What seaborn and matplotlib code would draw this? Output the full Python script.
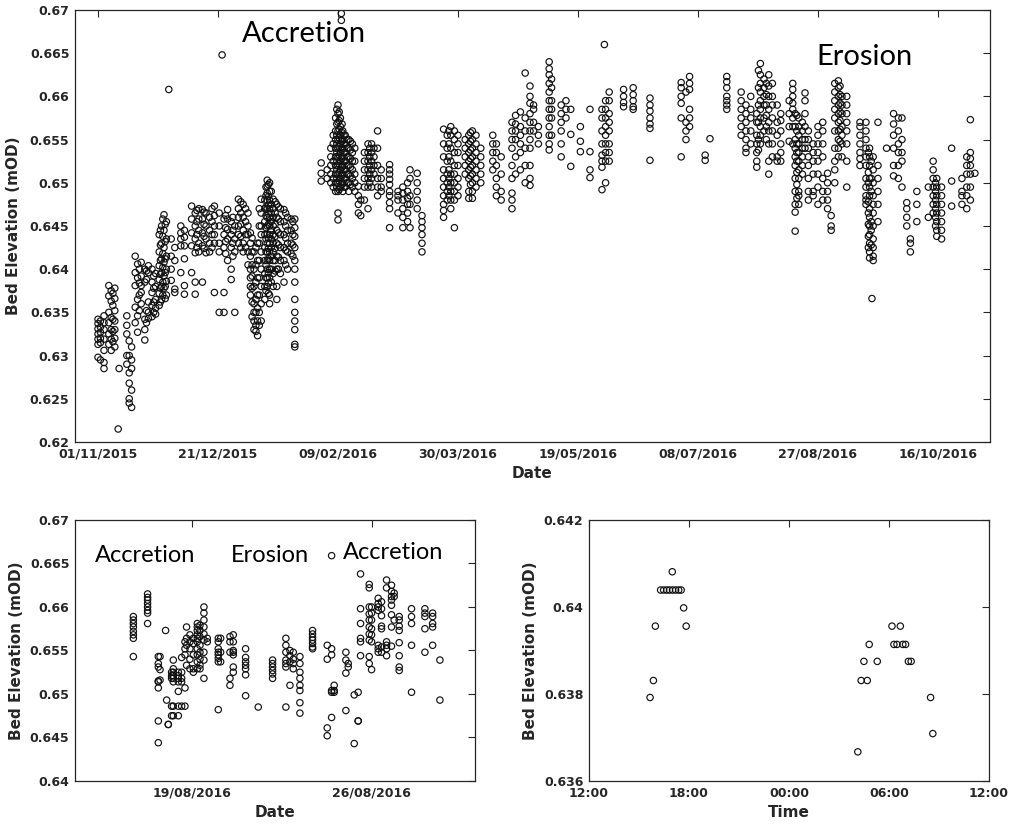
import numpy as np
import pandas as pd
import seaborn as sns
import matplotlib
matplotlib.use('Agg')
import matplotlib.pyplot as plt
import matplotlib.dates as mdates
from matplotlib.ticker import FixedLocator, FuncFormatter

# ---- top panel: whole record, (days after 01/11/2015, bed levels in mOD) ----
nov_jan = [
    (0.0, [0.6342, 0.6337, 0.6331, 0.6325, 0.6319, 0.6313, 0.6298]),
    (1.0, [0.6340, 0.6333, 0.6327, 0.6320, 0.6315, 0.6295]),
    (2.5, [0.6346, 0.6338, 0.6330, 0.6319, 0.6306, 0.6292, 0.6285]),
    (4.5, [0.6381, 0.6369, 0.6350, 0.6338, 0.6325, 0.6313]),
    (5.5, [0.6375, 0.6363, 0.6344, 0.6330, 0.6319, 0.6306]),
    (6.2, [0.6372, 0.6358, 0.6342, 0.6328, 0.6316]),
    (7.0, [0.6378, 0.6366, 0.6352, 0.6340, 0.6330, 0.6320, 0.6310]),
    (8.4, [0.6215]),
    (8.8, [0.6285]),
    (12.0, [0.6346, 0.6335, 0.6325, 0.6300, 0.6290]),
    (13.0, [0.6317, 0.6300, 0.6280, 0.6268, 0.6250, 0.6245]),
    (14.0, [0.6310, 0.6295, 0.6285, 0.6260, 0.6240]),
    (15.5, [0.6415, 0.6396, 0.6381, 0.6356, 0.6338]),
    (16.5, [0.6406, 0.6390, 0.6365, 0.6346, 0.6327]),
    (17.2, [0.6400, 0.6384, 0.6370, 0.6352]),
    (18.0, [0.6408, 0.6392, 0.6381, 0.6373, 0.6360]),
    (19.5, [0.6400, 0.6385, 0.6342, 0.6330, 0.6318]),
    (20.2, [0.6398, 0.6388, 0.6352, 0.6338]),
    (21.0, [0.6404, 0.6396, 0.6362, 0.6350, 0.6343]),
    (22.5, [0.6400, 0.6385, 0.6373, 0.6358, 0.6345]),
    (23.2, [0.6392, 0.6378, 0.6362, 0.6350]),
    (24.0, [0.6395, 0.6380, 0.6365, 0.6355, 0.6348]),
    (25.5, [0.6440, 0.6420, 0.6404, 0.6388, 0.6372, 0.6358]),
    (26.0, [0.6445, 0.6428, 0.6410, 0.6394, 0.6378, 0.6362]),
    (26.5, [0.6450, 0.6430, 0.6412, 0.6396, 0.6380, 0.6365]),
    (27.0, [0.6458, 0.6438, 0.6418, 0.6402, 0.6385, 0.6370]),
    (27.5, [0.6463, 0.6445, 0.6425, 0.6408, 0.6392, 0.6378]),
    (28.0, [0.6452, 0.6432, 0.6412, 0.6396, 0.6380, 0.6366]),
    (28.5, [0.6455, 0.6435, 0.6415, 0.6400, 0.6386, 0.6370]),
    (29.5, [0.6608]),
    (30.5, [0.6435, 0.6415, 0.6400, 0.6387]),
    (32.0, [0.6425, 0.6410, 0.6377, 0.6373]),
    (34.5, [0.6450, 0.6442, 0.6435, 0.6427, 0.6396]),
    (36.0, [0.6445, 0.6437, 0.6427, 0.6412, 0.6381, 0.6371]),
    (39.0, [0.6473, 0.6458, 0.6442, 0.6427, 0.6396]),
    (40.5, [0.6465, 0.6450, 0.6435, 0.6419, 0.6385, 0.6371]),
    (41.2, [0.6468, 0.6455, 0.6440, 0.6425]),
    (42.0, [0.6470, 0.6458, 0.6445, 0.6430, 0.6420]),
    (43.5, [0.6469, 0.6458, 0.6442, 0.6427, 0.6385]),
    (44.2, [0.6466, 0.6452, 0.6438, 0.6424]),
    (45.0, [0.6465, 0.6450, 0.6435, 0.6419]),
    (46.5, [0.6460, 0.6445, 0.6430, 0.6420]),
    (47.5, [0.6470, 0.6455, 0.6440, 0.6425]),
    (48.5, [0.6473, 0.6462, 0.6450, 0.6440, 0.6430, 0.6373]),
    (50.5, [0.6465, 0.6450, 0.6430, 0.6420, 0.6350]),
    (51.7, [0.6648]),
    (52.5, [0.6458, 0.6440, 0.6425, 0.6373, 0.6350]),
    (53.2, [0.6462, 0.6448, 0.6432, 0.6418]),
    (54.0, [0.6469, 0.6458, 0.6446, 0.6435, 0.6410]),
    (55.5, [0.6455, 0.6440, 0.6425, 0.6400, 0.6388]),
    (56.2, [0.6460, 0.6445, 0.6430, 0.6415]),
    (57.0, [0.6450, 0.6435, 0.6420, 0.6350]),
    (58.5, [0.6481, 0.6470, 0.6460, 0.6450, 0.6440, 0.6430]),
    (59.5, [0.6478, 0.6465, 0.6452, 0.6438, 0.6425]),
    (60.5, [0.6475, 0.6460, 0.6445, 0.6430, 0.6420]),
    (61.5, [0.6470, 0.6455, 0.6440, 0.6425]),
    (62.5, [0.6465, 0.6450, 0.6440, 0.6420, 0.6405]),
    (63.5, [0.6442, 0.6430, 0.6415, 0.6400, 0.6390, 0.6380, 0.6370]),
    (64.2, [0.6436, 0.6420, 0.6405, 0.6392, 0.6378, 0.6362, 0.6345]),
    (65.0, [0.6420, 0.6400, 0.6380, 0.6360, 0.6350, 0.6340, 0.6330]),
    (65.8, [0.6425, 0.6405, 0.6385, 0.6365, 0.6350, 0.6335, 0.6328]),
    (66.5, [0.6430, 0.6410, 0.6390, 0.6370, 0.6355, 0.6340, 0.6323]),
    (67.2, [0.6470, 0.6450, 0.6430, 0.6410, 0.6390, 0.6370, 0.6350, 0.6335]),
    (68.0, [0.6481, 0.6465, 0.6450, 0.6440, 0.6420, 0.6400, 0.6380, 0.6360, 0.6340]),
    (69.5, [0.6480, 0.6470, 0.6455, 0.6440, 0.6425, 0.6410, 0.6395, 0.6380, 0.6365]),
    (70.0, [0.6495, 0.6485, 0.6472, 0.6462, 0.6448, 0.6435, 0.6420, 0.6405, 0.6390, 0.6375]),
    (70.5, [0.6503, 0.6496, 0.6488, 0.6480, 0.6470, 0.6460, 0.6450, 0.6440,
            0.6430, 0.6420, 0.6410, 0.6400, 0.6390, 0.6380]),
    (71.0, [0.6498, 0.6484, 0.6474, 0.6464, 0.6452, 0.6436, 0.6424, 0.6412, 0.6396, 0.6384, 0.6372]),
    (71.5, [0.6500, 0.6490, 0.6480, 0.6470, 0.6460, 0.6450, 0.6440, 0.6430,
            0.6420, 0.6410, 0.6400, 0.6390, 0.6370, 0.6360]),
    (72.2, [0.6490, 0.6475, 0.6465, 0.6455, 0.6445, 0.6435, 0.6425, 0.6415, 0.6400, 0.6385]),
    (73.0, [0.6481, 0.6470, 0.6460, 0.6450, 0.6440, 0.6430, 0.6420, 0.6410, 0.6395, 0.6380]),
    (73.8, [0.6478, 0.6465, 0.6452, 0.6438, 0.6424, 0.6410, 0.6398]),
    (74.5, [0.6475, 0.6460, 0.6445, 0.6430, 0.6415, 0.6400, 0.6380, 0.6365]),
    (75.2, [0.6472, 0.6458, 0.6442, 0.6428, 0.6414, 0.6400]),
    (76.0, [0.6470, 0.6455, 0.6440, 0.6425, 0.6410, 0.6395]),
    (77.5, [0.6469, 0.6455, 0.6440, 0.6425, 0.6410, 0.6385]),
    (78.2, [0.6465, 0.6450, 0.6436, 0.6422, 0.6405]),
    (79.0, [0.6460, 0.6445, 0.6430, 0.6420, 0.6400]),
    (80.5, [0.6458, 0.6445, 0.6430, 0.6418]),
    (81.2, [0.6455, 0.6440, 0.6428, 0.6415]),
    (82.0, [0.6458, 0.6448, 0.6438, 0.6425, 0.6410, 0.6400, 0.6385, 0.6365,
            0.6350, 0.6340, 0.6330, 0.6313, 0.6310]),
]

feb_apr = [
    (93.0, [0.6523, 0.6511, 0.6502]),
    (95.5, [0.6515, 0.6505]),
    (97.0, [0.6540, 0.6530, 0.6520, 0.6510, 0.6500]),
    (98.0, [0.6555, 0.6545, 0.6525, 0.6505, 0.6495]),
    (99.0, [0.6575, 0.6560, 0.6550, 0.6540, 0.6530, 0.6520, 0.6510, 0.6500, 0.6490]),
    (99.5, [0.6585, 0.6568, 0.6555, 0.6545, 0.6535, 0.6525, 0.6515, 0.6505, 0.6495]),
    (100.0, [0.6590, 0.6580, 0.6570, 0.6560, 0.6550, 0.6540, 0.6530, 0.6520,
             0.6510, 0.6500, 0.6490, 0.6465, 0.6457]),
    (100.5, [0.6582, 0.6572, 0.6562, 0.6552, 0.6542, 0.6532, 0.6522, 0.6512, 0.6502, 0.6492]),
    (101.0, [0.6575, 0.6565, 0.6555, 0.6545, 0.6535, 0.6525, 0.6515, 0.6505, 0.6495]),
    (101.4, [0.6696, 0.6688]),
    (101.7, [0.6568, 0.6558, 0.6548, 0.6538, 0.6528, 0.6518, 0.6508, 0.6498]),
    (102.0, [0.6560, 0.6550, 0.6540, 0.6530, 0.6520, 0.6510, 0.6500, 0.6490]),
    (102.5, [0.6555, 0.6545, 0.6535, 0.6525, 0.6515, 0.6505, 0.6495]),
    (103.0, [0.6555, 0.6545, 0.6535, 0.6525, 0.6515, 0.6505, 0.6495]),
    (103.7, [0.6550, 0.6540, 0.6530, 0.6520, 0.6510, 0.6500]),
    (104.5, [0.6550, 0.6540, 0.6530, 0.6520, 0.6510, 0.6500, 0.6490]),
    (105.2, [0.6548, 0.6538, 0.6528, 0.6518, 0.6508, 0.6498]),
    (106.0, [0.6545, 0.6535, 0.6525, 0.6515, 0.6505, 0.6495]),
    (107.0, [0.6540, 0.6525, 0.6510, 0.6500, 0.6490]),
    (108.5, [0.6496, 0.6485, 0.6475, 0.6465]),
    (109.5, [0.6480, 0.6462]),
    (111.0, [0.6535, 0.6525, 0.6515, 0.6505, 0.6495, 0.6480]),
    (112.5, [0.6545, 0.6535, 0.6525, 0.6515, 0.6505, 0.6495, 0.6470]),
    (113.2, [0.6540, 0.6530, 0.6520, 0.6510, 0.6500]),
    (114.0, [0.6545, 0.6535, 0.6525, 0.6515, 0.6505, 0.6495]),
    (115.0, [0.6540, 0.6530, 0.6520, 0.6510]),
    (116.5, [0.6560, 0.6540, 0.6520, 0.6505, 0.6495, 0.6485]),
    (118.0, [0.6515, 0.6505, 0.6495, 0.6490]),
    (121.5, [0.6521, 0.6515, 0.6510, 0.6504, 0.6498, 0.6490, 0.6485, 0.6477, 0.6470, 0.6448]),
    (125.0, [0.6490, 0.6485, 0.6480, 0.6465]),
    (127.0, [0.6495, 0.6488, 0.6480, 0.6470, 0.6460, 0.6448]),
    (129.0, [0.6500, 0.6490, 0.6482, 0.6475, 0.6465, 0.6455]),
    (130.0, [0.6515, 0.6505, 0.6485, 0.6475, 0.6448]),
    (133.0, [0.6511, 0.6500, 0.6490, 0.6480, 0.6470]),
    (135.0, [0.6462, 0.6455, 0.6448, 0.6440, 0.6430, 0.6420]),
    (144.0, [0.6562, 0.6545, 0.6530, 0.6515, 0.6505, 0.6495, 0.6485, 0.6475, 0.6468, 0.6460]),
    (145.5, [0.6555, 0.6540, 0.6525, 0.6510, 0.6500, 0.6490, 0.6480]),
    (146.2, [0.6560, 0.6545, 0.6530, 0.6515, 0.6505, 0.6495, 0.6485]),
    (147.0, [0.6565, 0.6555, 0.6540, 0.6525, 0.6510, 0.6500, 0.6490, 0.6480, 0.6470]),
    (148.5, [0.6560, 0.6550, 0.6535, 0.6520, 0.6510, 0.6500, 0.6490, 0.6480, 0.6448]),
    (150.0, [0.6555, 0.6545, 0.6535, 0.6520, 0.6505, 0.6495, 0.6485]),
    (153.0, [0.6550, 0.6540, 0.6530, 0.6520, 0.6510]),
    (154.5, [0.6555, 0.6545, 0.6535, 0.6525, 0.6515, 0.6505, 0.6490, 0.6482]),
    (155.2, [0.6558, 0.6548, 0.6538, 0.6528, 0.6518, 0.6508, 0.6498]),
    (156.0, [0.6560, 0.6550, 0.6540, 0.6530, 0.6520, 0.6510, 0.6500, 0.6490, 0.6482]),
    (157.5, [0.6555, 0.6545, 0.6535, 0.6525, 0.6515, 0.6505, 0.6495]),
    (159.5, [0.6540, 0.6530, 0.6520, 0.6510, 0.6500]),
    (164.5, [0.6555, 0.6545, 0.6535, 0.6525, 0.6515]),
    (166.0, [0.6545, 0.6535, 0.6520, 0.6505, 0.6495, 0.6485]),
    (168.0, [0.6530, 0.6510, 0.6490, 0.6480]),
]

may_jul = [
    (172.5, [0.6570, 0.6560, 0.6550, 0.6540, 0.6520, 0.6505, 0.6488, 0.6480, 0.6470]),
    (174.0, [0.6578, 0.6568, 0.6560, 0.6550, 0.6530, 0.6510]),
    (176.0, [0.6582, 0.6565, 0.6555, 0.6545, 0.6535, 0.6515]),
    (178.0, [0.6627, 0.6575, 0.6560, 0.6540, 0.6520, 0.6500]),
    (180.0, [0.6612, 0.6600, 0.6592, 0.6580, 0.6570, 0.6560, 0.6550, 0.6540, 0.6520, 0.6505, 0.6497]),
    (181.5, [0.6590, 0.6585, 0.6570, 0.6560]),
    (183.5, [0.6565, 0.6555, 0.6545]),
    (188.0, [0.6640, 0.6632, 0.6625, 0.6615, 0.6605, 0.6595, 0.6585, 0.6575,
             0.6565, 0.6555, 0.6545, 0.6538]),
    (189.0, [0.6620, 0.6610, 0.6595, 0.6585, 0.6575, 0.6555]),
    (193.0, [0.6590, 0.6580, 0.6570, 0.6560, 0.6545, 0.6530]),
    (195.0, [0.6595, 0.6585, 0.6575]),
    (197.0, [0.6585, 0.6556, 0.6519]),
    (201.0, [0.6565, 0.6548, 0.6536]),
    (205.0, [0.6585, 0.6536, 0.6515, 0.6506]),
    (210.0, [0.6585, 0.6575, 0.6560, 0.6545, 0.6532, 0.6525, 0.6518, 0.6492]),
    (211.0, [0.6660]),
    (211.5, [0.6595, 0.6585, 0.6575, 0.6565, 0.6555, 0.6545, 0.6535, 0.6525, 0.6500]),
    (213.0, [0.6605, 0.6595, 0.6580, 0.6570, 0.6560, 0.6545, 0.6535, 0.6525]),
    (219.0, [0.6608, 0.6600, 0.6593, 0.6588]),
    (223.0, [0.6610, 0.6602, 0.6595, 0.6588, 0.6585]),
    (230.0, [0.6598, 0.6590, 0.6583, 0.6575, 0.6568, 0.6563, 0.6526]),
    (243.0, [0.6616, 0.6610, 0.6600, 0.6592, 0.6575, 0.6530]),
    (245.0, [0.6605, 0.6570, 0.6560, 0.6550]),
    (246.5, [0.6623, 0.6615, 0.6608, 0.6585, 0.6575, 0.6565]),
    (253.0, [0.6532, 0.6526]),
    (255.0, [0.6551]),
]

aug_nov = [
    (262.0, [0.6623, 0.6617, 0.6610, 0.6600, 0.6595, 0.6590, 0.6585]),
    (268.0, [0.6605, 0.6595, 0.6585, 0.6575, 0.6565, 0.6555]),
    (270.0, [0.6590, 0.6580, 0.6570, 0.6560, 0.6550, 0.6540, 0.6535]),
    (272.0, [0.6600, 0.6585, 0.6575, 0.6560, 0.6545]),
    (274.5, [0.6580, 0.6570, 0.6555, 0.6545, 0.6535, 0.6525, 0.6518]),
    (275.2, [0.6630, 0.6610, 0.6590, 0.6570, 0.6550, 0.6538]),
    (276.0, [0.6638, 0.6625, 0.6615, 0.6605, 0.6595, 0.6585, 0.6575, 0.6565, 0.6555, 0.6545]),
    (277.5, [0.6620, 0.6610, 0.6600, 0.6590, 0.6575, 0.6560]),
    (278.5, [0.6615, 0.6602, 0.6590, 0.6578, 0.6565, 0.6550]),
    (279.5, [0.6625, 0.6612, 0.6600, 0.6585, 0.6570, 0.6560, 0.6545, 0.6525, 0.6510]),
    (281.0, [0.6615, 0.6600, 0.6590, 0.6575, 0.6560, 0.6545, 0.6530]),
    (283.0, [0.6590, 0.6570, 0.6555, 0.6530, 0.6525]),
    (284.5, [0.6580, 0.6572, 0.6560, 0.6545, 0.6535, 0.6525]),
    (288.0, [0.6595, 0.6580, 0.6565, 0.6548]),
    (289.5, [0.6615, 0.6608, 0.6600, 0.6592, 0.6585, 0.6575, 0.6565, 0.6545]),
    (290.5, [0.6580, 0.6565, 0.6550, 0.6540, 0.6530, 0.6520, 0.6505, 0.6490, 0.6475, 0.6466, 0.6444]),
    (291.2, [0.6578, 0.6560, 0.6545, 0.6535, 0.6525, 0.6512, 0.6498, 0.6482]),
    (292.0, [0.6575, 0.6565, 0.6555, 0.6545, 0.6535, 0.6525, 0.6515, 0.6505, 0.6490, 0.6475, 0.6485]),
    (293.5, [0.6570, 0.6560, 0.6550, 0.6540, 0.6530, 0.6520, 0.6510]),
    (294.6, [0.6604, 0.6595, 0.6580, 0.6565, 0.6550, 0.6540]),
    (296.0, [0.6560, 0.6550, 0.6540, 0.6530, 0.6520, 0.6505, 0.6490, 0.6480]),
    (298.0, [0.6545, 0.6535, 0.6525, 0.6510, 0.6490, 0.6485]),
    (300.0, [0.6565, 0.6555, 0.6545, 0.6535, 0.6525, 0.6510, 0.6495, 0.6475]),
    (302.0, [0.6570, 0.6560, 0.6545, 0.6530, 0.6505, 0.6490, 0.6480]),
    (304.0, [0.6511, 0.6500, 0.6490, 0.6480, 0.6470]),
    (305.5, [0.6462, 0.6450, 0.6445]),
    (307.0, [0.6615, 0.6605, 0.6595, 0.6585, 0.6575, 0.6560, 0.6540, 0.6525, 0.6515, 0.6500]),
    (308.5, [0.6618, 0.6610, 0.6600, 0.6590, 0.6580, 0.6570, 0.6560, 0.6550, 0.6540, 0.6530]),
    (309.2, [0.6612, 0.6602, 0.6592, 0.6582, 0.6572, 0.6562, 0.6548]),
    (310.0, [0.6600, 0.6590, 0.6580, 0.6565, 0.6555, 0.6545, 0.6530]),
    (312.0, [0.6600, 0.6590, 0.6580, 0.6570, 0.6560, 0.6545, 0.6525, 0.6495]),
    (317.5, [0.6570, 0.6565, 0.6555, 0.6545, 0.6535, 0.6528, 0.6520]),
    (320.0, [0.6570, 0.6560, 0.6550, 0.6540, 0.6530, 0.6520, 0.6505, 0.6495, 0.6485, 0.6480, 0.6475]),
    (321.0, [0.6535, 0.6512, 0.6500, 0.6478, 0.6465, 0.6452, 0.6438, 0.6425]),
    (321.5, [0.6540, 0.6530, 0.6520, 0.6505, 0.6495, 0.6485, 0.6470, 0.6460,
             0.6450, 0.6440, 0.6430, 0.6420, 0.6413]),
    (322.2, [0.6525, 0.6505, 0.6490, 0.6455, 0.6445, 0.6428]),
    (322.5, [0.6366]),
    (323.0, [0.6530, 0.6515, 0.6500, 0.6485, 0.6475, 0.6465, 0.6450, 0.6435, 0.6425, 0.6415, 0.6410]),
    (325.0, [0.6570, 0.6520, 0.6505, 0.6490, 0.6475, 0.6455]),
    (328.6, [0.6540]),
    (331.5, [0.6580, 0.6568, 0.6555, 0.6540, 0.6520, 0.6508]),
    (333.5, [0.6575, 0.6560, 0.6545, 0.6535, 0.6520, 0.6505]),
    (335.0, [0.6575, 0.6550, 0.6535, 0.6525, 0.6495]),
    (337.0, [0.6477, 0.6470, 0.6460, 0.6450]),
    (338.5, [0.6435, 0.6430, 0.6420]),
    (341.2, [0.6490, 0.6475, 0.6455]),
    (346.0, [0.6495, 0.6460]),
    (348.0, [0.6525, 0.6515, 0.6505, 0.6495, 0.6485, 0.6475, 0.6465]),
    (349.0, [0.6500, 0.6490, 0.6480, 0.6470, 0.6460, 0.6450]),
    (349.5, [0.6505, 0.6495, 0.6485, 0.6475, 0.6465, 0.6455, 0.6445, 0.6438]),
    (351.5, [0.6495, 0.6485, 0.6475, 0.6465, 0.6455, 0.6445, 0.6435]),
    (355.7, [0.6540, 0.6502, 0.6473]),
    (360.0, [0.6505, 0.6490, 0.6485, 0.6475]),
    (362.0, [0.6530, 0.6520, 0.6510, 0.6495, 0.6485, 0.6470]),
    (363.5, [0.6573, 0.6535, 0.6528, 0.6520, 0.6510, 0.6495, 0.6480]),
    (365.4, [0.6511]),
]

# ---- bottom left: zoom on August 2016, (hours after 19/08/2016 00:00, mOD) ----
aug_zoom = [
    (-54.4, [0.6589, 0.6585, 0.6581, 0.6577, 0.6572, 0.6568, 0.6564, 0.6543]),
    (-41.1, [0.6615, 0.6611, 0.6608, 0.6604, 0.6600, 0.6596, 0.6593, 0.6581]),
    (-31.1, [0.6543, 0.6535, 0.6531, 0.6515, 0.6514, 0.6507, 0.6469, 0.6444]),
    (-29.5, [0.6543, 0.6528, 0.6516]),
    (-24.3, [0.6573]),
    (-23.3, [0.6493]),
    (-21.8, [0.6465, 0.6465]),
    (-18.7, [0.6525, 0.6521, 0.6518, 0.6475, 0.6486]),
    (-17.1, [0.6539, 0.6529, 0.6525, 0.6521, 0.6518, 0.6514, 0.6486, 0.6475]),
    (-12.4, [0.6525, 0.6521, 0.6518, 0.6514, 0.6503, 0.6486, 0.6475]),
    (-9.3, [0.6542, 0.6525, 0.6518, 0.6514, 0.6486]),
    (-6.2, [0.6560, 0.6552, 0.6545, 0.6507, 0.6486]),
    (-4.7, [0.6577, 0.6564, 0.6556, 0.6533]),
    (-1.6, [0.6568, 0.6560, 0.6552, 0.6540, 0.6529]),
    (1.6, [0.6564, 0.6558, 0.6545, 0.6529, 0.6525]),
    (5.3, [0.6581, 0.6577, 0.6573, 0.6568, 0.6564, 0.6560, 0.6552, 0.6545, 0.6537, 0.6529]),
    (7.8, [0.6579, 0.6573, 0.6566, 0.6556, 0.6548, 0.6540, 0.6533, 0.6529]),
    (11.5, [0.6600, 0.6593, 0.6585, 0.6577, 0.6569, 0.6562, 0.6548, 0.6539, 0.6518]),
    (14.6, [0.6560, 0.6564]),
    (24.9, [0.6564, 0.6560, 0.6552, 0.6548, 0.6545, 0.6541, 0.6537, 0.6482]),
    (27.1, [0.6564, 0.6548, 0.6537]),
    (35.8, [0.6566, 0.6560, 0.6548, 0.6518, 0.6510]),
    (38.9, [0.6568, 0.6560, 0.6550, 0.6548, 0.6545, 0.6531, 0.6525]),
    (50.4, [0.6552, 0.6542, 0.6537, 0.6533, 0.6529, 0.6522, 0.6498]),
    (62.2, [0.6485]),
    (75.6, [0.6539, 0.6535, 0.6531, 0.6527, 0.6523, 0.6518]),
    (88.0, [0.6564, 0.6556, 0.6548, 0.6539, 0.6535, 0.6531, 0.6485]),
    (91.8, [0.6550, 0.6544, 0.6537, 0.6510]),
    (94.9, [0.6548, 0.6540, 0.6535, 0.6529]),
    (101.1, [0.6543, 0.6535, 0.6525, 0.6518, 0.6510, 0.6504, 0.6490, 0.6478]),
    (112.9, [0.6573, 0.6569, 0.6565, 0.6562, 0.6558, 0.6554, 0.6552]),
    (126.6, [0.6556, 0.6540, 0.6461, 0.6452]),
    (130.7, [0.6552, 0.6545, 0.6504, 0.6502, 0.6473, 0.6659]),
    (133.1, [0.6510, 0.6504, 0.6502]),
    (144.0, [0.6548, 0.6539, 0.6524, 0.6481]),
    (146.2, [0.6535, 0.6531]),
    (151.8, [0.6499, 0.6443]),
    (155.5, [0.6502, 0.6469, 0.6469]),
    (157.7, [0.6638, 0.6598, 0.6581, 0.6564, 0.6560, 0.6544]),
    (165.8, [0.6626, 0.6622, 0.6600, 0.6592, 0.6585, 0.6577, 0.6569, 0.6562, 0.6543, 0.6535]),
    (168.0, [0.6600, 0.6593, 0.6585, 0.6575, 0.6568, 0.6560, 0.6528]),
    (174.2, [0.6610, 0.6604, 0.6600, 0.6596, 0.6556, 0.6552, 0.6548]),
    (177.3, [0.6606, 0.6598, 0.6590, 0.6578, 0.6575, 0.6554, 0.6548]),
    (182.0, [0.6631, 0.6622, 0.6560, 0.6556, 0.6552, 0.6544]),
    (186.6, [0.6625, 0.6618, 0.6612, 0.6608, 0.6602, 0.6591, 0.6577, 0.6555]),
    (189.1, [0.6616, 0.6612, 0.6585]),
    (193.8, [0.6589, 0.6585, 0.6578, 0.6573, 0.6559, 0.6544, 0.6531, 0.6527]),
    (205.3, [0.6598, 0.6589, 0.6581, 0.6556, 0.6502]),
    (217.8, [0.6598, 0.6593, 0.6589, 0.6575, 0.6548]),
    (225.0, [0.6593, 0.6589, 0.6581, 0.6577, 0.6556]),
    (231.8, [0.6539, 0.6493]),
]

# ---- bottom right: one tidal day ----
tide_clock = ['15:40', '15:52', '15:59', '16:18', '16:29', '16:40', '16:50', '17:00',
              '17:01', '17:12', '17:23', '17:32', '17:41', '17:50',
              '04:08', '04:20', '04:30', '04:42', '04:49', '05:18', '06:11', '06:18',
              '06:29', '06:41', '06:50', '07:00', '07:10', '07:20', '08:30', '08:38']
tide_bed = [0.63792, 0.63831, 0.63956, 0.64039, 0.64039, 0.64039, 0.64039, 0.64081,
            0.64039, 0.64039, 0.64039, 0.64039, 0.63998, 0.63956,
            0.63667, 0.63831, 0.63875, 0.63831, 0.63914, 0.63875, 0.63956, 0.63914,
            0.63914, 0.63956, 0.63914, 0.63914, 0.63875, 0.63875, 0.63792, 0.63709]

record_start = pd.Timestamp('2015-11-01')
zoom_start = pd.Timestamp('2016-08-19')
tide_day = pd.Timestamp('2016-08-20')


def explode(cols, origin, unit):
    rows = [(origin + pd.to_timedelta(t, unit=unit), v) for t, vals in cols for v in vals]
    return pd.DataFrame(rows, columns=['when', 'bed'])


top = explode(nov_jan + feb_apr + may_jul + aug_nov, record_start, 'D')
left = explode(aug_zoom, zoom_start, 'h')
tide_when = [tide_day + pd.Timedelta(c + ':00') + pd.Timedelta(days=int(c < '12:00'))
             for c in tide_clock]
right = pd.DataFrame({'when': tide_when, 'bed': tide_bed})

sns.set_style('white')
ink = '#262626'
plt.rcParams['font.family'] = ['DejaVu Sans']
plt.rcParams['font.weight'] = 'bold'
plt.rcParams['axes.edgecolor'] = ink
plt.rcParams['axes.linewidth'] = 0.9

fig = plt.figure(figsize=(10.09, 8.32), dpi=100)
ax_top = fig.add_axes([0.0743, 0.4688, 0.9069, 0.5192])
ax_l = fig.add_axes([0.0743, 0.0613, 0.3964, 0.3137])
ax_r = fig.add_axes([0.5837, 0.0613, 0.3964, 0.3137])

mk = dict(marker='o', s=21, facecolors='none', edgecolor='#111111', linewidth=0.85, legend=False)
sns.scatterplot(data=top, x='when', y='bed', ax=ax_top, **mk)
sns.scatterplot(data=left, x='when', y='bed', ax=ax_l, **mk)
sns.scatterplot(data=right, x='when', y='bed', ax=ax_r, **mk)

gfmt = FuncFormatter(lambda v, p: f'{v:g}')


def dress(ax, ylo, yhi, ystep, xlabel):
    ax.set_ylim(ylo, yhi)
    ax.yaxis.set_major_locator(FixedLocator(np.round(np.arange(ylo, yhi + ystep / 2, ystep), 4)))
    ax.yaxis.set_major_formatter(gfmt)
    ax.tick_params(direction='in', top=True, right=True, length=5, width=0.8,
                   colors=ink, labelsize=9, pad=4)
    for lab in ax.get_xticklabels() + ax.get_yticklabels():
        lab.set_fontweight('bold')
    ax.set_ylabel('Bed Elevation (mOD)', fontsize=11, fontweight='bold', color=ink)
    ax.set_xlabel(xlabel, fontsize=11, fontweight='bold', color=ink)
    for sp in ax.spines.values():
        sp.set_visible(True)
        sp.set_color(ink)


# top
ax_top.set_xlim(record_start - pd.Timedelta(days=9.6), record_start + pd.Timedelta(days=371.7))
ax_top.xaxis.set_major_locator(FixedLocator(mdates.date2num(pd.date_range(record_start, periods=8, freq='50D'))))
ax_top.xaxis.set_major_formatter(mdates.DateFormatter('%d/%m/%Y'))
dress(ax_top, 0.62, 0.67, 0.005, 'Date')
ax_top.yaxis.labelpad = 6

# bottom left
ax_l.set_xlim(zoom_start - pd.Timedelta(hours=108.9), zoom_start + pd.Timedelta(hours=264.5))
ax_l.xaxis.set_major_locator(FixedLocator(mdates.date2num([zoom_start, zoom_start + pd.Timedelta(days=7)])))
ax_l.xaxis.set_major_formatter(mdates.DateFormatter('%d/%m/%Y'))
dress(ax_l, 0.64, 0.67, 0.005, 'Date')

# bottom right
r0 = tide_day + pd.Timedelta(hours=12)
ax_r.set_xlim(r0, r0 + pd.Timedelta(hours=24))
ax_r.xaxis.set_major_locator(FixedLocator(mdates.date2num(pd.date_range(r0, periods=5, freq='6h'))))
ax_r.xaxis.set_major_formatter(mdates.DateFormatter('%H:%M'))
dress(ax_r, 0.636, 0.642, 0.002, 'Time')

note = dict(family=['Lato', 'DejaVu Sans'], fontweight='normal', color='black', va='baseline')
ax_top.text(0.1825, 0.926, 'Accretion', transform=ax_top.transAxes, fontsize=21, **note)
ax_top.text(0.8106, 0.873, 'Erosion', transform=ax_top.transAxes, fontsize=21, **note)
ax_l.text(0.05, 0.840, 'Accretion', transform=ax_l.transAxes, fontsize=17, **note)
ax_l.text(0.39, 0.840, 'Erosion', transform=ax_l.transAxes, fontsize=17, **note)
ax_l.text(0.671, 0.849, 'Accretion', transform=ax_l.transAxes, fontsize=17, **note)

fig.savefig('out.png', dpi=100)
